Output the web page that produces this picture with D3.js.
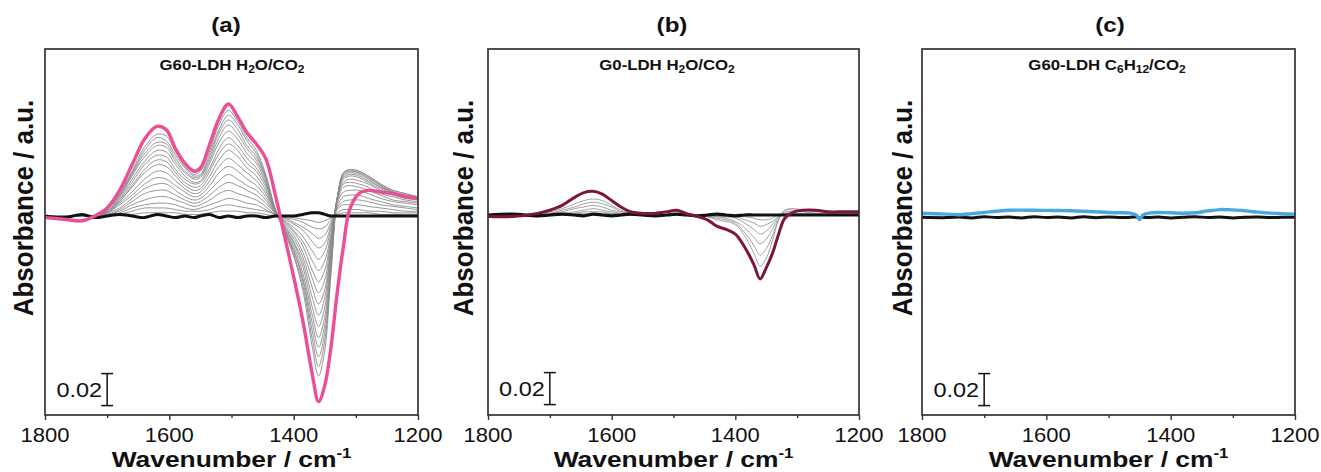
<!DOCTYPE html>
<html><head><meta charset="utf-8">
<script src="https://cdn.jsdelivr.net/npm/d3@7"></script>
<style>body{margin:0;background:#fff;} svg{display:block;font-family:"Liberation Sans",Arial,sans-serif;}</style>
</head><body><svg id="chart" width="1321" height="472"></svg>
<script>
// ---------- data ----------
const xMajorTicks = [1800, 1600, 1400, 1200];
const xMinorTicks = [1700, 1500, 1300];
const panelLetters = ["(a)", "(b)", "(c)"];
const scaleBarValue = 0.02;

// Panel (a): G60-LDH H2O/CO2
const waveA = [1800,1770,1740,1720,1700,1680,1660,1640,1620,1605,1590,1575,1560,1550,1535,1520,1505,1490,1475,1460,1445,1430,1415,1400,1385,1370,1360,1350,1340,1330,1320,1310,1295,1280,1260,1240,1220,1200];
const pinkA = [-0.001,-0.002,-0.003,0.000,0.005,0.016,0.032,0.048,0.056,0.054,0.042,0.033,0.028,0.030,0.045,0.061,0.070,0.062,0.052,0.045,0.036,0.014,-0.012,-0.038,-0.066,-0.099,-0.116,-0.106,-0.082,-0.048,-0.019,0.004,0.014,0.016,0.015,0.014,0.012,0.011];
const blackA = [0.000,-0.001,0.001,-0.001,0.000,0.001,0.000,-0.001,0.001,0.000,-0.001,0.000,-0.001,0.000,0.001,-0.001,0.000,-0.001,0.000,0.000,-0.001,0.000,0.000,0.000,0.001,0.002,0.002,0.001,0.000,0.000,0.000,0.000,0.000,0.000,0.000,0.000,0.000,0.000];
const grayA = [
 [0,0,0,0,0.004,0.014,0.028,0.043,0.051,0.050,0.040,0.031,0.026,0.028,0.041,0.057,0.066,0.059,0.049,0.041,0.026,0.005,-0.010,-0.025,-0.047,-0.082,-0.100,-0.084,-0.036,0.010,0.027,0.029,0.028,0.025,0.020,0.016,0.014,0.012],
 [0,0,0,0,0.004,0.013,0.027,0.041,0.049,0.047,0.038,0.030,0.025,0.026,0.039,0.054,0.063,0.057,0.047,0.039,0.025,0.004,-0.009,-0.024,-0.044,-0.077,-0.094,-0.078,-0.034,0.011,0.027,0.029,0.028,0.025,0.020,0.016,0.014,0.012],
 [0,0,0,0,0.004,0.013,0.026,0.039,0.046,0.045,0.036,0.028,0.024,0.025,0.037,0.052,0.060,0.054,0.044,0.037,0.024,0.004,-0.009,-0.022,-0.041,-0.072,-0.088,-0.073,-0.031,0.011,0.026,0.028,0.027,0.024,0.019,0.015,0.013,0.012],
 [0,0,0,0,0.003,0.012,0.025,0.037,0.044,0.043,0.034,0.027,0.023,0.024,0.035,0.049,0.057,0.051,0.042,0.035,0.023,0.004,-0.008,-0.021,-0.039,-0.067,-0.082,-0.068,-0.029,0.011,0.026,0.028,0.027,0.024,0.019,0.015,0.013,0.012],
 [0,0,0,0,0.003,0.011,0.023,0.034,0.041,0.040,0.032,0.025,0.021,0.022,0.033,0.046,0.053,0.048,0.039,0.033,0.021,0.004,-0.008,-0.019,-0.036,-0.062,-0.076,-0.063,-0.026,0.011,0.025,0.027,0.026,0.023,0.018,0.015,0.013,0.011],
 [0,0,0,0,0.003,0.010,0.021,0.032,0.038,0.037,0.029,0.023,0.020,0.021,0.030,0.042,0.049,0.044,0.036,0.030,0.020,0.004,-0.007,-0.017,-0.032,-0.057,-0.069,-0.057,-0.023,0.011,0.024,0.026,0.025,0.022,0.018,0.014,0.012,0.011],
 [0,0,0,0,0.003,0.009,0.019,0.029,0.035,0.034,0.027,0.021,0.018,0.019,0.028,0.039,0.045,0.041,0.033,0.028,0.018,0.003,-0.006,-0.016,-0.029,-0.051,-0.062,-0.051,-0.020,0.011,0.023,0.025,0.024,0.021,0.017,0.014,0.012,0.011],
 [0,0,0,0,0.002,0.009,0.018,0.027,0.032,0.031,0.025,0.019,0.016,0.017,0.025,0.035,0.041,0.037,0.030,0.025,0.016,0.003,-0.006,-0.014,-0.026,-0.045,-0.055,-0.046,-0.018,0.011,0.021,0.023,0.022,0.020,0.016,0.013,0.011,0.010],
 [0,0,0,0,0.002,0.008,0.015,0.023,0.028,0.027,0.022,0.017,0.014,0.015,0.022,0.031,0.036,0.032,0.027,0.022,0.014,0.003,-0.005,-0.012,-0.023,-0.039,-0.048,-0.040,-0.015,0.010,0.020,0.021,0.020,0.018,0.014,0.012,0.010,0.009],
 [0,0,0,0,0.002,0.007,0.013,0.020,0.024,0.023,0.019,0.015,0.012,0.013,0.019,0.027,0.031,0.028,0.023,0.019,0.012,0.002,-0.004,-0.010,-0.019,-0.034,-0.041,-0.034,-0.013,0.009,0.018,0.019,0.018,0.016,0.013,0.010,0.009,0.008],
 [0,0,0,0,0.002,0.005,0.011,0.017,0.020,0.020,0.016,0.012,0.010,0.011,0.016,0.022,0.026,0.023,0.019,0.016,0.010,0.002,-0.003,-0.009,-0.016,-0.028,-0.034,-0.028,-0.011,0.008,0.015,0.016,0.016,0.014,0.011,0.009,0.008,0.007],
 [0,0,0,0,0.001,0.004,0.009,0.014,0.016,0.016,0.013,0.010,0.008,0.009,0.013,0.018,0.021,0.019,0.016,0.013,0.008,0.002,-0.003,-0.007,-0.013,-0.022,-0.027,-0.022,-0.008,0.006,0.012,0.013,0.013,0.011,0.009,0.007,0.006,0.005],
 [0,0,0,0,0.001,0.003,0.007,0.010,0.012,0.012,0.010,0.008,0.006,0.007,0.010,0.014,0.016,0.014,0.012,0.010,0.006,0.001,-0.002,-0.005,-0.009,-0.016,-0.020,-0.017,-0.006,0.005,0.009,0.010,0.010,0.009,0.007,0.006,0.005,0.004],
 [0,0,0,0,0.001,0.002,0.005,0.007,0.008,0.008,0.007,0.005,0.004,0.005,0.007,0.009,0.011,0.010,0.008,0.007,0.004,0.001,-0.001,-0.004,-0.007,-0.011,-0.014,-0.012,-0.004,0.004,0.007,0.007,0.007,0.006,0.005,0.004,0.003,0.003],
 [0,0,0,0,0,0.001,0.003,0.005,0.005,0.005,0.004,0.003,0.003,0.003,0.004,0.006,0.007,0.006,0.005,0.004,0.003,0.001,-0.001,-0.002,-0.004,-0.007,-0.008,-0.007,-0.002,0.002,0.004,0.004,0.004,0.003,0.003,0.002,0.002,0.002],
 [0,0,0,0,0,0.001,0.001,0.002,0.002,0.002,0.002,0.001,0.001,0.001,0.002,0.003,0.003,0.003,0.002,0.002,0.001,0,0,-0.001,-0.002,-0.003,-0.004,-0.003,-0.001,0.001,0.002,0.002,0.002,0.002,0.001,0.001,0.001,0.001]
];

// Panel (b): G0-LDH H2O/CO2
const waveB = [1800,1760,1720,1700,1680,1660,1645,1630,1615,1600,1585,1570,1550,1530,1510,1495,1480,1460,1445,1430,1415,1400,1385,1370,1360,1350,1340,1330,1320,1305,1290,1270,1250,1225,1200];
const maroonB = [-0.001,-0.001,0.001,0.003,0.006,0.011,0.014,0.0148,0.013,0.009,0.005,0.002,0.001,0.001,0.002,0.003,0.001,-0.001,-0.003,-0.007,-0.009,-0.012,-0.020,-0.031,-0.040,-0.033,-0.024,-0.012,-0.002,0.002,0.003,0.003,0.002,0.002,0.002];
const blackB = [0,0.0005,-0.0005,0,0.0005,0,-0.0005,0.0005,0,-0.0005,0,0.0005,0,-0.0005,0,0.0005,0,-0.0005,0,0.0005,0,-0.0005,0,0,0,0,0,0,0,0,0,0,0,0,0];
const grayB = [
 [0,0,0.001,0.002,0.004,0.007,0.009,0.010,0.009,0.006,0.003,0.001,0,0,0,0.001,0,0,-0.001,-0.003,-0.004,-0.006,-0.013,-0.024,-0.032,-0.027,-0.016,-0.003,0.003,0.004,0.003,0.003,0.002,0.002,0.002],
 [0,0,0,0.001,0.003,0.005,0.007,0.008,0.007,0.005,0.002,0.001,0,0,0,0,0,0,-0.001,-0.002,-0.003,-0.005,-0.011,-0.019,-0.025,-0.021,-0.013,-0.003,0.003,0.003,0.003,0.002,0.002,0.001,0.001],
 [0,0,0,0.001,0.002,0.004,0.005,0.006,0.005,0.003,0.002,0.001,0,0,0,0,0,0,-0.001,-0.001,-0.002,-0.004,-0.008,-0.014,-0.018,-0.015,-0.009,-0.002,0.002,0.002,0.002,0.001,0.001,0.001,0.001],
 [0,0,0,0.001,0.001,0.002,0.003,0.004,0.003,0.002,0.001,0,0,0,0,0,0,0,0,-0.001,-0.001,-0.002,-0.005,-0.009,-0.012,-0.010,-0.006,-0.001,0.001,0.001,0.001,0.001,0.001,0.001,0.001],
 [0,0,0,0,0.001,0.001,0.002,0.002,0.002,0.001,0.001,0,0,0,0,0,0,0,0,-0.001,-0.001,-0.001,-0.003,-0.005,-0.007,-0.006,-0.004,-0.001,0.001,0.001,0.001,0.001,0,0,0],
 [0,0,0,0,0,0.001,0.001,0.001,0.001,0.001,0,0,0,0,0,0,0,0,0,0,0,-0.001,-0.001,-0.002,-0.003,-0.003,-0.002,0,0,0,0,0,0,0,0]
];

// Panel (c): G60-LDH C6H12/CO2
const waveC = [1800,1760,1740,1720,1700,1680,1660,1640,1620,1600,1580,1560,1540,1520,1500,1480,1465,1455,1450,1445,1435,1420,1400,1380,1360,1340,1320,1300,1280,1260,1240,1220,1200];
const blueC = [0.0017,0.0012,0.0008,0.0015,0.0022,0.0030,0.0036,0.0037,0.0036,0.0035,0.0034,0.0033,0.0030,0.0026,0.0022,0.0020,0.0018,0.0005,-0.0022,0.0005,0.0018,0.0022,0.0020,0.0017,0.0020,0.0032,0.0040,0.0038,0.0032,0.0024,0.0018,0.0014,0.0012];
const blackC = [-0.0008,-0.0010,-0.0006,-0.0012,-0.0004,-0.0010,-0.0006,-0.0012,-0.0004,-0.0010,-0.0006,-0.0012,-0.0005,-0.0011,-0.0006,-0.0010,-0.0008,-0.0006,-0.0012,-0.0008,-0.0010,-0.0006,-0.0012,-0.0008,-0.0004,-0.0010,-0.0006,-0.0012,-0.0008,-0.0006,-0.0010,-0.0008,-0.0008];

// ---------- drawing ----------
const svg = d3.select("#chart");
const TOP = 49, BOTTOM = 415;

function stretchedText(parent, x, y, sx, opts) {
  const g = parent.append("g").attr("transform", `translate(${x},${y}) scale(${sx},1)` + (opts.rotate ? ` rotate(${opts.rotate})` : ""));
  const t = g.append("text")
    .attr("text-anchor", opts.anchor || "middle")
    .attr("font-size", opts.size)
    .attr("font-weight", opts.weight || "normal")
    .attr("fill", "#111");
  return t;
}

function addSubLabel(t, parts) {
  parts.forEach(p => {
    const s = t.append("tspan").text(p[0]);
    if (p[1] === "sub") s.attr("font-size", 10).attr("dy", 3);
    else if (p[1] === "back") s.attr("dy", -3);
  });
}

const panels = [
  {left: 45, right: 418, yDom: [-0.12438, 0.10438], letterX: 226, subX: 232, ylabX: 33,
   sub: [["G60-LDH H"],["2","sub"],["O/CO","back"],["2","sub"]],
   grays: grayA.map(v => ({w: waveA, v})), grayColor: "#8a8a8a",
   series: [{w: waveA, v: blackA, c: "#111", sw: 3}, {w: waveA, v: pinkA, c: "#ea4f98", sw: 3.4}]},
  {left: 488, right: 859, yDom: [-0.125, 0.10375], letterX: 672, subX: 667, ylabX: 473,
   sub: [["G0-LDH H"],["2","sub"],["O/CO","back"],["2","sub"]],
   grays: grayB.map(v => ({w: waveB, v})), grayColor: "#979797",
   series: [{w: waveB, v: blackB, c: "#111", sw: 3.2}, {w: waveB, v: maroonB, c: "#7d1542", sw: 3}]},
  {left: 922, right: 1295, yDom: [-0.12438, 0.10438], letterX: 1110, subX: 1107, ylabX: 912,
   sub: [["G60-LDH C"],["6","sub"],["H","back"],["12","sub"],["/CO","back"],["2","sub"]],
   grays: [], grayColor: "#999",
   series: [{w: waveC, v: blackC, c: "#111", sw: 3}, {w: waveC, v: blueC, c: "#4aa6df", sw: 3.4}]}
];

panels.forEach((p, i) => {
  const x = d3.scaleLinear().domain([1800, 1200]).range([p.left, p.right]);
  const y = d3.scaleLinear().domain(p.yDom).range([BOTTOM, TOP]);
  const g = svg.append("g");
  const clipId = "clip" + i;
  svg.append("clipPath").attr("id", clipId).append("rect")
    .attr("x", p.left).attr("y", TOP).attr("width", p.right - p.left).attr("height", BOTTOM - TOP);

  const line = d3.line().x(d => x(d[0])).y(d => y(d[1])).curve(d3.curveCatmullRom.alpha(0.5));
  const plot = g.append("g").attr("clip-path", `url(#${clipId})`);

  p.grays.forEach(s => {
    plot.append("path").datum(s.w.map((w, k) => [w, s.v[k]]))
      .attr("d", line).attr("fill", "none").attr("stroke", p.grayColor).attr("stroke-width", 0.9);
  });
  p.series.forEach(s => {
    plot.append("path").datum(s.w.map((w, k) => [w, s.v[k]]))
      .attr("d", line).attr("fill", "none").attr("stroke", s.c).attr("stroke-width", s.sw)
      .attr("stroke-linejoin", "round");
  });

  // frame
  g.append("rect").attr("x", p.left).attr("y", TOP).attr("width", p.right - p.left).attr("height", BOTTOM - TOP)
    .attr("fill", "none").attr("stroke", "#333").attr("stroke-width", 1.7);

  // x axis ticks and labels
  const ax = g.append("g").attr("transform", `translate(0,${BOTTOM})`)
    .call(d3.axisBottom(x).tickValues(xMajorTicks).tickSize(5).tickPadding(8).tickFormat(d3.format("d")));
  ax.select(".domain").remove();
  ax.selectAll(".tick line").attr("stroke", "#333").attr("stroke-width", 1.4);
  ax.selectAll(".tick text").remove();
  xMajorTicks.forEach(t => {
    stretchedText(g, x(t), 442, 1.13, {size: 19.5}).text(t);
  });
  const axm = g.append("g").attr("transform", `translate(0,${BOTTOM})`)
    .call(d3.axisBottom(x).tickValues(xMinorTicks).tickSize(3).tickFormat(""));
  axm.select(".domain").remove();
  axm.selectAll(".tick line").attr("stroke", "#333").attr("stroke-width", 1.4);

  // x title
  const xt = stretchedText(g, (p.left + p.right) / 2, 467, 1.2, {size: 22, weight: "bold"});
  xt.append("tspan").text("Wavenumber / cm");
  xt.append("tspan").text("-1").attr("font-size", 14).attr("dy", -9);

  // y title
  stretchedText(g, p.ylabX, 208, 1.08, {size: 26, weight: "bold", rotate: -90}).text("Absorbance / a.u.");

  // panel letter
  stretchedText(g, p.letterX, 32, 1.15, {size: 21, weight: "bold"}).text(panelLetters[i]);

  // subtitle
  const st = stretchedText(g, p.subX, 70, 1.2, {size: 14, weight: "bold"});
  addSubLabel(st, p.sub);

  // scale bar
  const sbx = x(1700);
  const y0 = y(-0.1185), y1 = y(-0.1185 + scaleBarValue);
  const sb = g.append("g").attr("stroke", "#111").attr("stroke-width", 1.5);
  sb.append("line").attr("x1", sbx).attr("x2", sbx).attr("y1", y0).attr("y2", y1);
  sb.append("line").attr("x1", sbx - 6).attr("x2", sbx + 6).attr("y1", y0).attr("y2", y0);
  sb.append("line").attr("x1", sbx - 6).attr("x2", sbx + 6).attr("y1", y1).attr("y2", y1);
  stretchedText(g, sbx - 5, (y0 + y1) / 2 + 7.5, 1.12, {size: 21, anchor: "end"}).text(scaleBarValue.toFixed(2));
});
</script>
</body></html>
